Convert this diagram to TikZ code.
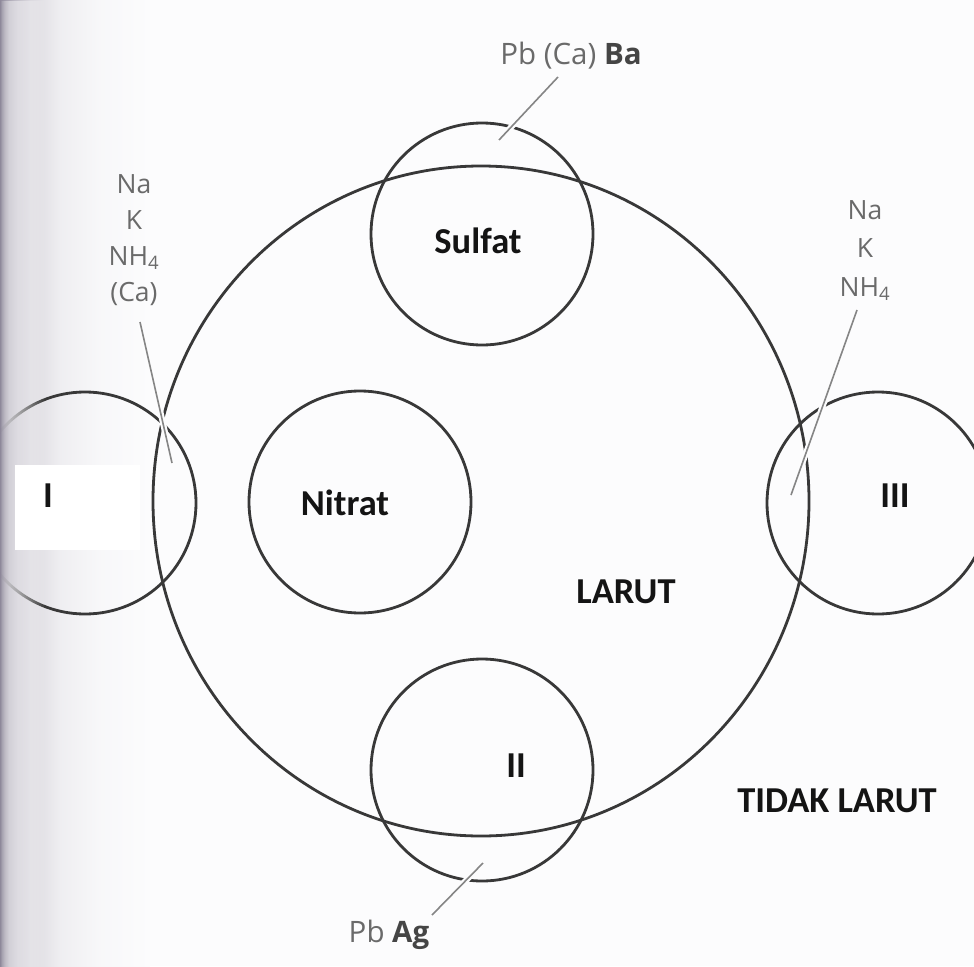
\documentclass[tikz,border=0pt]{standalone}
\usepackage{fontspec}
\setmainfont{Carlito}
\newfontfamily\graysf{Open Sans}
\usetikzlibrary{shapes.geometric,fadings}
\definecolor{bgc}{HTML}{FCFCFD}
\definecolor{edgec}{HTML}{8E889A}
\colorlet{shA}{edgec!78!bgc}
\colorlet{shB}{edgec!55!bgc}
\colorlet{shC}{edgec!30!bgc}
\colorlet{shD}{edgec!12!bgc}
\colorlet{shE}{edgec!4!bgc}
\definecolor{linec}{HTML}{383838}
\definecolor{leadc}{HTML}{858585}
\definecolor{graytxt}{HTML}{6A6A6A}
\definecolor{darktxt}{HTML}{454545}
\definecolor{lblc}{HTML}{141414}
\pgfdeclarehorizontalshading{leftshade}{100bp}{color(0bp)=(edgec); color(25bp)=(edgec); color(27bp)=(shA); color(30bp)=(shB); color(35bp)=(shC); color(45bp)=(shD); color(58bp)=(shE); color(75bp)=(bgc); color(100bp)=(bgc)}
\tikzset{
  ring/.style={circle, draw=linec, line width=2.8pt, minimum size=222pt, inner sep=0pt},
  bigring/.style={ellipse, draw=linec, line width=2.8pt, minimum width=656pt, minimum height=670pt, inner sep=0pt},
  lbl/.style={font=\bfseries\fontsize{36.5}{40}\selectfont, text=lblc, inner sep=0pt, anchor=base},
  ionlbl/.style={font=\graysf\fontsize{26.5}{36}\selectfont, text=graytxt, inner sep=0pt, align=center},
  leader/.style={draw=leadc, line width=1.6pt, preaction={draw=bgc, line width=6pt}}
}
\begin{document}
\begin{tikzpicture}[x=1pt,y=-1pt]
\useasboundingbox (0,0) rectangle (974,966);
\fill[bgc] (0,0) rectangle (974,966);
\shade[shading=leftshade] (0,0) rectangle (150,966);

% circles
\node[bigring] (larutC) at (481,501) {};
\node[ring] (sulfatC) at (482,234) {};
\node[ring] (nitratC) at (360,502) {};
\node[ring] (twoC) at (482,770) {};
\node[ring] (oneC) at (85,503) {};
\node[ring] (threeC) at (878,503) {};

% fade of the scanned page edge over the left circle
\shade[shading=leftshade, path fading=east] (0,0) rectangle (45,966);

% white patch behind I
\fill[white] (15,465) rectangle (140,550);

% bold labels
\node[lbl] (tSulfat) at (478,253) {Sulfat};
\node[lbl] (tNitrat) at (345,515) {Nitrat};
\node[lbl] (tLarut) at (626,603) {LARUT};
\node[lbl] (tTidak) at (837,812) {TIDAK LARUT};
\node[lbl] (tI) at (48,507) {I};
\node[lbl] (tII) at (516,777) {II};
\node[lbl] (tIII) at (895,507) {III};

% ion labels
\node[ionlbl, anchor=north] (ionL) at (134,174) {Na\\K\\NH\textsubscript{4}\\(Ca)};
\node[ionlbl, anchor=north, font=\graysf\fontsize{26.5}{38.5}\selectfont] (ionR) at (865,200) {Na\\K\\NH\textsubscript{4}};
\node[ionlbl, anchor=base, font=\graysf\fontsize{29.5}{30}\selectfont] (ionT) at (571,65) {Pb (Ca) {\color{darktxt}\bfseries Ba}};
\node[ionlbl, anchor=base, font=\graysf\fontsize{29.5}{30}\selectfont] (ionB) at (389,942) {Pb {\color{darktxt}\bfseries Ag}};

% leader lines
\coordinate (tA) at (558,77);  \coordinate (tB) at (499,140);
\coordinate (lA) at (140,322); \coordinate (lB) at (172,463);
\coordinate (rA) at (857,310); \coordinate (rB) at (791,495);
\coordinate (bA) at (432,915); \coordinate (bB) at (483,863);
\draw[leader] (tA) -- (tB);
\draw[leader] (lA) -- (lB);
\draw[leader] (rA) -- (rB);
\draw[leader] (bA) -- (bB);
\end{tikzpicture}
\end{document}
